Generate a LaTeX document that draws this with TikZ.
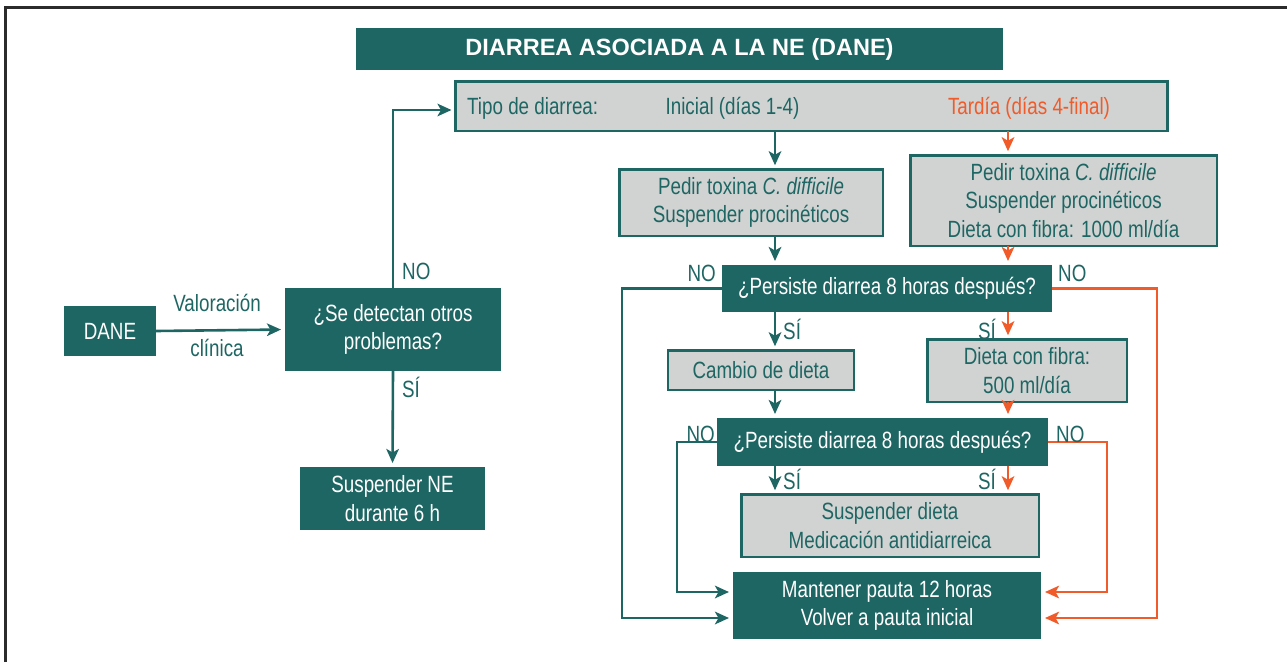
\documentclass[tikz,border=0pt]{standalone}
\usepackage{fontspec}
\setmainfont{Liberation Sans}[FakeStretch=0.8]
\newfontfamily\titlefont{Liberation Sans}
\usetikzlibrary{arrows.meta,calc}
\definecolor{dteal}{HTML}{1E6663}
\definecolor{dorange}{HTML}{F15A29}
\definecolor{lgray}{HTML}{D1D3D2}
\definecolor{frame}{HTML}{2B2B2B}
\begin{document}
\begin{tikzpicture}[x=1pt,y=-1pt,
  txt/.style={font=\fontsize{23.5}{28.7}\selectfont, text=dteal, align=center, inner sep=0pt},
  tbox/.style={txt, fill=dteal, text=white, inner sep=0pt, outer sep=0pt},
  gbox/.style={txt, fill=lgray, draw=dteal, line width=2.5pt, inner sep=0pt, outer sep=0pt},
  arr/.style={-{Stealth[length=14pt,width=12.5pt,inset=3.5pt]}, line width=2.6pt, shorten >=4pt},
  tarr/.style={arr, draw=dteal},
  oarr/.style={arr, draw=dorange},
  lbl/.style={txt},
]
\useasboundingbox (0,0) rectangle (1287,662);
\draw[frame, line width=3pt] (5.5,662) -- (5.5,7.5) -- (1287,7.5);

% title
\node[tbox, minimum width=647pt, minimum height=42pt, font=\titlefont\bfseries\fontsize{23.5}{26}\selectfont] (title) at (679.5,49) {DIARREA ASOCIADA A LA NE (DANE)};

% type box
\node[gbox, minimum width=712pt, minimum height=49.5pt] (tipo) at (811.5,106) {};
\node[txt, anchor=base west] (tipoT) at (467,114) {Tipo de diarrea:};
\node[txt, anchor=base] (tipoI) at (732.5,114) {Inicial (días 1-4)};
\node[txt, anchor=base, text=dorange] (tipoF) at (1029,114) {Tardía (días 4-final)};

% left branch
\node[tbox, minimum width=92pt, minimum height=50pt] (dane) at (110,331) {DANE};
\node[tbox, minimum width=216pt, minimum height=83pt] (se) at (393,329.5) {¿Se detectan otros\\problemas?};
\node[tbox, minimum width=185pt, minimum height=63pt] (suspne) at (392.5,498.5) {Suspender NE\\durante 6 h};

% pedir boxes
\node[gbox, minimum width=263.5pt, minimum height=66.5pt] (pedirL) at (751,202.5) {Pedir toxina \textit{C. difficile}\\Suspender procinéticos};
\node[gbox, minimum width=306.5pt, minimum height=90.5pt] (pedirR) at (1063.5,200.5) {Pedir toxina \textit{C. difficile}\\Suspender procinéticos\\Dieta con fibra: 1000 ml/día};

% persiste 1
\node[tbox, minimum width=330pt, minimum height=47pt] (p1) at (887,288.5) {¿Persiste diarrea 8 horas después?};
\node[gbox, minimum width=186pt, minimum height=39.5pt] (cambio) at (761,370) {Cambio de dieta};
\node[gbox, minimum width=199.5pt, minimum height=62.5pt] (dieta) at (1027,370.5) {Dieta con fibra:\\500 ml/día};

% persiste 2
\node[tbox, minimum width=331pt, minimum height=48pt] (p2) at (882.5,442) {¿Persiste diarrea 8 horas después?};
\node[gbox, minimum width=297.5pt, minimum height=62.5pt] (suspd) at (890,525.5) {Suspender dieta\\Medicación antidiarreica};
\node[tbox, minimum width=308pt, minimum height=67pt] (mant) at (887,605.5) {Mantener pauta 12 horas\\Volver a pauta inicial};

% helper coordinates
\coordinate (xL) at (775,0);
\coordinate (xR) at (1008,0);
\coordinate (cT) at (392,110);
\coordinate (cL1) at (622,618);
\coordinate (cL2) at (677,592);
\coordinate (cR1) at (1157,618);
\coordinate (cR2) at (1107,592);

% connectors left part
\draw[tarr] (dane.east) -- (se.west);
\draw[tarr] (se.north) |- (cT -| tipo.west);
\draw[tarr] (se.south) -- (suspne.north);
\node[lbl, anchor=base] (valo) at (217,311) {Valoración};
\node[lbl, anchor=base] (clin) at (217,356) {clínica};
\node[lbl, anchor=base west] (noSe) at (402,279) {NO};
\node[lbl, anchor=base west] (siSe) at (402,397) {SÍ};

% vertical teal chain
\draw[tarr] (tipo.south -| xL) -- (pedirL.north -| xL);
\draw[tarr] (pedirL.south -| xL) -- (p1.north -| xL);
\draw[tarr] (p1.south -| xL) -- (cambio.north -| xL);
\draw[tarr] (cambio.south -| xL) -- (p2.north -| xL);
\draw[tarr] (p2.south -| xL) -- (suspd.north -| xL);

% vertical orange chain
\draw[oarr] (tipo.south -| xR) -- (pedirR.north -| xR);
\draw[oarr] (pedirR.south -| xR) -- (p1.north -| xR);
\draw[oarr] (p1.south -| xR) -- (dieta.north -| xR);
\draw[oarr] (dieta.south -| xR) -- (p2.north -| xR);
\draw[oarr] (p2.south -| xR) -- (suspd.north -| xR);

% NO loops
\draw[tarr] (p1.west) -| (cL1) -- (cL1 -| mant.west);
\draw[tarr] (p2.west) -| (cL2) -- (cL2 -| mant.west);
\draw[oarr] (p1.east) -| (cR1) -- (cR1 -| mant.east);
\draw[oarr] (p2.east) -| (cR2) -- (cR2 -| mant.east);

% labels
\node[lbl, anchor=base east] (noP1L) at (716,281) {NO};
\node[lbl, anchor=base west] (noP1R) at (1058,281) {NO};
\node[lbl, anchor=base west] (siP1L) at (783,339) {SÍ};
\node[lbl, anchor=base east] (siP1R) at (996,339) {SÍ};
\node[lbl, anchor=base east] (noP2L) at (715,442) {NO};
\node[lbl, anchor=base west] (noP2R) at (1056,442) {NO};
\node[lbl, anchor=base west] (siP2L) at (783,489) {SÍ};
\node[lbl, anchor=base east] (siP2R) at (996,489) {SÍ};
\end{tikzpicture}
\end{document}
